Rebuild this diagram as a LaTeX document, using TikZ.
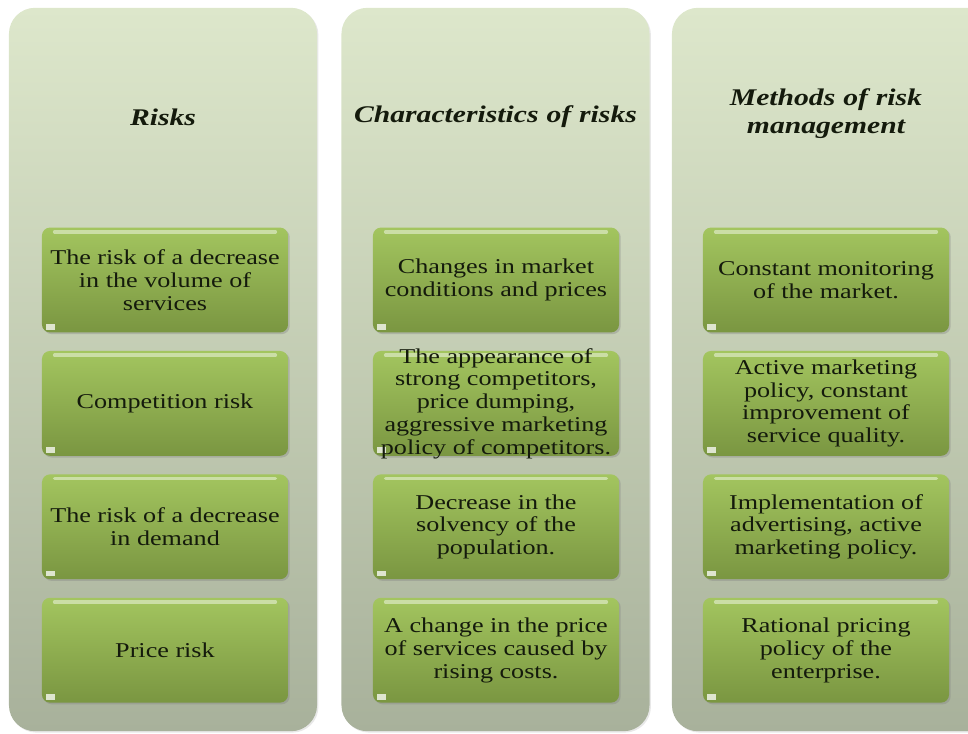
\documentclass[tikz,border=0pt]{standalone}
\usepackage{fontspec}
\setmainfont[FakeStretch=1.24]{Liberation Serif}
\usetikzlibrary{shadows}

\definecolor{panelTop}{HTML}{DDE7CB}
\definecolor{panelBot}{HTML}{A8B19B}
\definecolor{boxTop}{HTML}{A3C55F}
\definecolor{boxBot}{HTML}{7A9641}
\definecolor{ink}{HTML}{141A0C}

\tikzset{
  panel/.style={rounded corners=0.65cm, top color=panelTop, bottom color=panelBot,
    minimum width=7.7cm, minimum height=18.08cm, inner sep=0pt,
    drop shadow={opacity=0.18, shadow xshift=1pt, shadow yshift=-1pt}},
  heading/.style={font=\fontsize{17}{20}\selectfont\bfseries\itshape, text=ink,
    align=center, text width=7.5cm},
  riskbox/.style={rounded corners=0.2cm, top color=boxTop, bottom color=boxBot,
    minimum width=6.15cm, minimum height=2.62cm, inner sep=0pt,
    drop shadow={opacity=0.35, shadow xshift=1.2pt, shadow yshift=-1.2pt},
    path picture={
      \draw[white, opacity=0.45, line width=2.5pt, line cap=round]
        ([xshift=9pt,yshift=-3pt]path picture bounding box.north west) --
        ([xshift=-9pt,yshift=-3pt]path picture bounding box.north east);
      \draw[white, opacity=0.75, line width=4pt]
        ([xshift=3pt,yshift=4pt]path picture bounding box.south west) -- ++(6pt,0);
    }},
  boxtext/.style={align=center, text=ink, inner sep=0pt, font=\fontsize{15}{16.2}\selectfont},
}

\begin{document}
\begin{tikzpicture}[x=0.025cm, y=-0.025cm]
    \useasboundingbox (0,0) rectangle (968,733);
    \clip (0,0) rectangle (968,733);

    % Panels
    \node[panel] (col1) at (163,369.5) {};
    \node[panel] (col2) at (495.5,369.5) {};
    \node[panel, minimum width=8.4cm] (col3) at (840,369.5) {};

    % Headings
    \node[heading] (h1) at (163,117) {Risks};
    \node[heading] (h2) at (495.5,117) {Characteristics of risks};
    \node[heading] (h3) at (826,114) {Methods of risk\\management};

    % Boxes of the first column
    \foreach \t [count=\i] in {
        {The risk of a decrease\\in the volume of\\services},
        {Competition risk},
        {The risk of a decrease\\in demand},
        {Price risk}} {
        \pgfmathsetmacro{\yy}{280+(\i-1)*123.4}
        \node[riskbox] (r\i) at (165,\yy) {};
        \node[boxtext] (rt\i) at (r\i) {\t};
    }

    % Boxes of the second column
    \foreach \t [count=\i] in {
        {Changes in market\\conditions and prices},
        {The appearance of\\strong competitors,\\price dumping,\\aggressive marketing\\policy of competitors.},
        {Decrease in the\\solvency of the\\population.},
        {A change in the price\\of services caused by\\rising costs.}} {
        \pgfmathsetmacro{\yy}{280+(\i-1)*123.4}
        \node[riskbox] (c\i) at (496,\yy) {};
        \node[boxtext] (ct\i) at (c\i) {\t};
    }

    % Boxes of the third column
    \foreach \t [count=\i] in {
        {Constant monitoring\\of the market.},
        {Active marketing\\policy, constant\\improvement of\\service quality.},
        {Implementation of\\advertising, active\\marketing policy.},
        {Rational pricing\\policy of the\\enterprise.}} {
        \pgfmathsetmacro{\yy}{280+(\i-1)*123.4}
        \node[riskbox] (m\i) at (826,\yy) {};
        \node[boxtext] (mt\i) at (m\i) {\t};
    }
\end{tikzpicture}
\end{document}
